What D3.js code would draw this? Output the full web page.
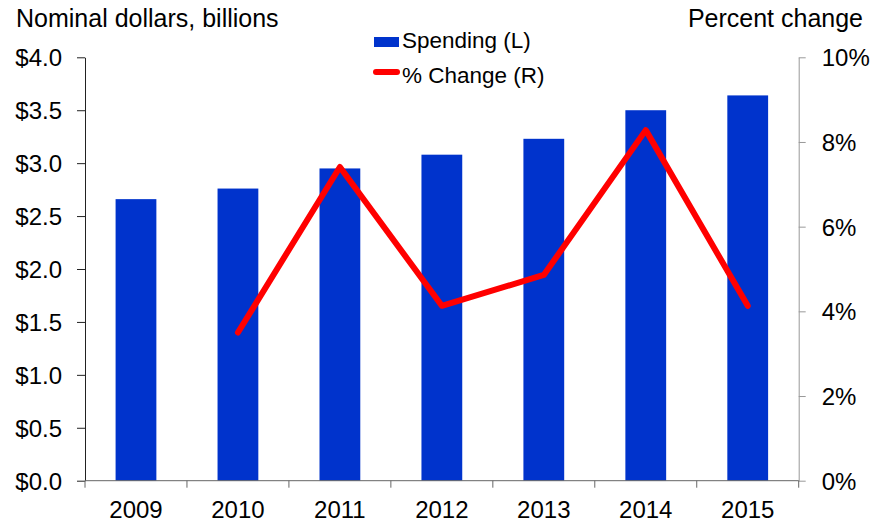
<!DOCTYPE html>
<html>
<head>
<meta charset="utf-8">
<script src="https://cdn.jsdelivr.net/npm/d3@7"></script>
<style>
  html, body { margin: 0; padding: 0; background: #fff; }
  svg text { font-family: "Liberation Sans", Arial, sans-serif; fill: #000; }
</style>
</head>
<body>
<svg id="chart" width="888" height="525"></svg>
<script>
// Health spending, nominal dollars (billions) and year-over-year change
const years = ["2009", "2010", "2011", "2012", "2013", "2014", "2015"];
const spending = [2.66, 2.76, 2.95, 3.08, 3.23, 3.50, 3.64];
const pctYears = ["2010", "2011", "2012", "2013", "2014", "2015"];
const pctChange = [3.50, 7.41, 4.13, 4.86, 8.28, 4.13];
const leftTicks = [0, 0.5, 1.0, 1.5, 2.0, 2.5, 3.0, 3.5, 4.0];
const rightTicks = [0, 2, 4, 6, 8, 10];
const legendLabels = ["Spending (L)", "% Change (R)"];

const svg = d3.select("#chart");
const m = { left: 85, right: 888 - 798.7, top: 57.3, bottom: 525 - 480.7 };
const W = 888, H = 525;

const x = d3.scaleBand().domain(years).range([m.left, W - m.right]).paddingInner(0.6).paddingOuter(0.3);
const yL = d3.scaleLinear().domain([0, 4]).range([H - m.bottom, m.top]);
const yR = d3.scaleLinear().domain([0, 10]).range([H - m.bottom, m.top]);
const xc = d => x(d) + x.bandwidth() / 2;

// Bars
svg.append("g").selectAll("rect").data(years).join("rect")
  .attr("x", d => x(d))
  .attr("width", x.bandwidth())
  .attr("y", (d, i) => yL(spending[i]))
  .attr("height", (d, i) => yL(0) - yL(spending[i]))
  .attr("fill", "#0033cc");

// Left axis
const axL = svg.append("g").attr("transform", `translate(${m.left},0)`)
  .call(d3.axisLeft(yL).tickValues(leftTicks).tickSize(8).tickSizeOuter(0).tickPadding(15)
    .tickFormat(d => "$" + d.toFixed(1)));
axL.selectAll("path,line").attr("stroke", "#222").attr("stroke-width", 1);
axL.selectAll("text").style("font-size", "24px").attr("dy", "0.35em");

// Right axis
const axR = svg.append("g").attr("transform", `translate(${W - m.right},0)`)
  .call(d3.axisRight(yR).tickValues(rightTicks).tickSize(7).tickSizeOuter(0).tickPadding(16)
    .tickFormat(d => d + "%"));
axR.selectAll("path,line").attr("stroke", "#999").attr("stroke-width", 1);
axR.selectAll("text").style("font-size", "24px").attr("dy", "0.35em");

// Bottom axis: labels at band centers, ticks at category boundaries
const axB = svg.append("g").attr("transform", `translate(0,${H - m.bottom})`)
  .call(d3.axisBottom(x).tickSize(0).tickPadding(20));
axB.select("path").remove();
axB.selectAll("text").style("font-size", "24px");
const bounds = d3.range(years.length + 1).map(i => m.left + i * x.step());
axB.append("line").attr("x1", m.left).attr("x2", W - m.right)
  .attr("stroke", "#666").attr("stroke-width", 1);
axB.selectAll("line.bt").data(bounds).join("line").attr("class", "bt")
  .attr("x1", d => d).attr("x2", d => d).attr("y1", 0).attr("y2", 7)
  .attr("stroke", "#666").attr("stroke-width", 1);

// Percent change line
const line = d3.line().x(d => xc(d[0])).y(d => yR(d[1]));
svg.append("path")
  .datum(pctYears.map((d, i) => [d, pctChange[i]]))
  .attr("d", line)
  .attr("fill", "none").attr("stroke", "#ff0000").attr("stroke-width", 6)
  .attr("stroke-linejoin", "round").attr("stroke-linecap", "round");

// Axis titles
svg.append("text").attr("x", 16).attr("y", 27).style("font-size", "25px").text("Nominal dollars, billions");
svg.append("text").attr("x", 863).attr("y", 27).attr("text-anchor", "end").style("font-size", "25px").text("Percent change");

// Legend
const lg = svg.append("g");
lg.append("rect").attr("x", 374).attr("y", 37).attr("width", 25).attr("height", 10).attr("fill", "#0033cc");
lg.append("text").attr("x", 402).attr("y", 47.5).style("font-size", "22.5px").text(legendLabels[0]);
lg.append("line").attr("x1", 376).attr("x2", 397).attr("y1", 72).attr("y2", 72)
  .attr("stroke", "#ff0000").attr("stroke-width", 6).attr("stroke-linecap", "round");
lg.append("text").attr("x", 402).attr("y", 82.5).style("font-size", "22.5px").text(legendLabels[1]);
</script>
</body>
</html>
